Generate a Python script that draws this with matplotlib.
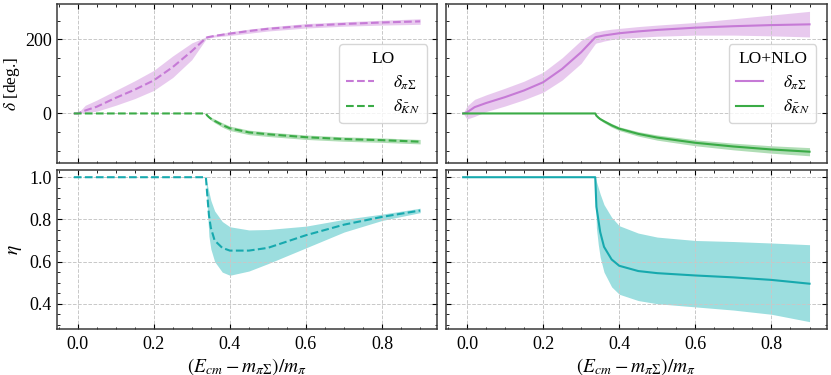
import numpy as np
import matplotlib
matplotlib.use('Agg')
import matplotlib.pyplot as plt

plt.rcParams['font.family'] = ['Liberation Serif', 'DejaVu Serif']
plt.rcParams['mathtext.fontset'] = 'stix'
plt.rcParams['xtick.direction'] = 'in'
plt.rcParams['ytick.direction'] = 'in'
plt.rcParams['xtick.top'] = True
plt.rcParams['ytick.right'] = True
plt.rcParams['xtick.minor.visible'] = True
plt.rcParams['ytick.minor.visible'] = True
plt.rcParams['xtick.major.size'] = 3.5
plt.rcParams['ytick.major.size'] = 3.5
plt.rcParams['xtick.minor.size'] = 1.8
plt.rcParams['ytick.minor.size'] = 1.8
plt.rcParams['axes.linewidth'] = 1.1
plt.rcParams['axes.edgecolor'] = '#3a3a3a'

# common energy grid (E_cm - m_piSigma)/m_pi
x = [-0.01, 0.0, 0.02, 0.05, 0.1, 0.15, 0.2, 0.25, 0.3, 0.337, 0.34, 0.345,
     0.35, 0.36, 0.38, 0.4, 0.45, 0.5, 0.6, 0.7, 0.8, 0.9]

# LO phase shifts
lo_pis = [0, 0, 8, 18, 42, 64, 89, 125, 168, 203, 205, 206,
          207, 209, 212, 215, 222, 228, 236, 241, 245, 248]
lo_pis_hi = [0, 0, 22, 36, 62, 88, 116, 155, 190, 206, 208, 209,
             210, 212, 216, 220, 227, 233, 242, 247, 251, 255]
lo_pis_lo = [0, 0, 2, 6, 22, 40, 62, 97, 145, 200, 202, 203,
             204, 206, 208, 210, 216, 222, 230, 235, 238, 240]
lo_kn = [0, 0, 0, 0, 0, 0, 0, 0, 0, 0, -5, -10,
         -14, -20, -31, -40, -51, -56, -64, -69, -72, -76]
lo_kn_hi = [0, 0, 0, 0, 0, 0, 0, 0, 0, 0, -3, -7,
            -10, -15, -25, -34, -45, -50, -58, -63, -66, -70]
lo_kn_lo = [0, 0, 0, 0, 0, 0, 0, 0, 0, 0, -7, -13,
            -18, -25, -37, -46, -57, -62, -70, -75, -78, -82]

# LO+NLO phase shifts
nlo_pis = [0, 3, 17, 28, 44, 62, 84, 120, 165, 205, 206, 207,
           208, 210, 213, 216, 221, 225, 231, 235, 238, 240]
nlo_pis_hi = [0, 20, 38, 50, 68, 87, 111, 150, 197, 220, 221, 221,
              222, 224, 227, 229, 234, 238, 245, 255, 265, 275]
nlo_pis_lo = [0, -15, -8, 5, 20, 37, 57, 90, 135, 188, 190, 191,
              192, 195, 199, 202, 205, 208, 211, 211, 209, 206]
nlo_kn = [0, 0, 0, 0, 0, 0, 0, 0, 0, 0, -6, -11,
          -15, -21, -32, -41, -55, -65, -79, -89, -97, -103]
nlo_kn_hi = [0, 0, 0, 0, 0, 0, 0, 0, 0, 0, -4, -8,
             -12, -17, -27, -36, -49, -58, -71, -80, -87, -92]
nlo_kn_lo = [0, 0, 0, 0, 0, 0, 0, 0, 0, 0, -8, -14,
             -18, -25, -37, -46, -61, -72, -87, -98, -107, -114]

# inelasticity
lo_eta = [1, 1, 1, 1, 1, 1, 1, 1, 1, 1, 0.93, 0.82,
          0.76, 0.70, 0.665, 0.652, 0.652, 0.665, 0.725, 0.775, 0.812, 0.842]
lo_eta_hi = [1, 1, 1, 1, 1, 1, 1, 1, 1, 1, 0.97, 0.93,
             0.89, 0.84, 0.79, 0.765, 0.75, 0.752, 0.768, 0.80, 0.825, 0.853]
lo_eta_lo = [1, 1, 1, 1, 1, 1, 1, 1, 1, 1, 0.88, 0.72,
             0.66, 0.60, 0.55, 0.535, 0.555, 0.59, 0.665, 0.74, 0.795, 0.832]
nlo_eta = [1, 1, 1, 1, 1, 1, 1, 1, 1, 1, 0.86, 0.80,
           0.74, 0.67, 0.61, 0.58, 0.555, 0.545, 0.534, 0.525, 0.513, 0.495]
nlo_eta_hi = [1, 1, 1, 1, 1, 1, 1, 1, 1, 1, 0.98, 0.95,
              0.92, 0.87, 0.81, 0.77, 0.735, 0.716, 0.70, 0.695, 0.688, 0.68]
nlo_eta_lo = [1, 1, 1, 1, 1, 1, 1, 1, 1, 1, 0.76, 0.68,
              0.62, 0.55, 0.48, 0.445, 0.415, 0.40, 0.385, 0.37, 0.35, 0.315]

purple = '#c67ad6'
green = '#3aab46'
cyan = '#17a9ae'

fig, axs = plt.subplots(2, 2, figsize=(8.31, 3.75), dpi=100,
                        sharex=True, sharey='row')
fig.subplots_adjust(left=0.068, right=0.995, top=0.989, bottom=0.123,
                    wspace=0.022, hspace=0.044)

for ax, ls, title, pis, pis_hi, pis_lo, kn, kn_hi, kn_lo in [
        (axs[0, 0], '--', 'LO', lo_pis, lo_pis_hi, lo_pis_lo, lo_kn, lo_kn_hi, lo_kn_lo),
        (axs[0, 1], '-', 'LO+NLO', nlo_pis, nlo_pis_hi, nlo_pis_lo, nlo_kn, nlo_kn_hi, nlo_kn_lo)]:
    ax.fill_between(x, pis_lo, pis_hi, color=purple, alpha=0.4, lw=0)
    ax.plot(x, pis, ls=ls, color=purple, lw=1.5, label=r'$\delta_{\pi\Sigma}$')
    ax.fill_between(x, kn_lo, kn_hi, color=green, alpha=0.4, lw=0)
    ax.plot(x, kn, ls=ls, color=green, lw=1.5, label=r'$\delta_{\bar{K}N}$')
    leg = ax.legend(title=title, loc='center right', fontsize=12.5,
                    title_fontsize=12.5, handlelength=1.6, handletextpad=1.1,
                    labelspacing=0.35, fancybox=True, edgecolor='#cccccc',
                    framealpha=0.8, borderpad=0.4, borderaxespad=0.6)

for ax, ls, eta, eta_hi, eta_lo in [
        (axs[1, 0], '--', lo_eta, lo_eta_hi, lo_eta_lo),
        (axs[1, 1], '-', nlo_eta, nlo_eta_hi, nlo_eta_lo)]:
    ax.fill_between(x, eta_lo, eta_hi, color='#1ab3b5', alpha=0.43, lw=0)
    ax.plot(x, eta, ls=ls, color=cyan, lw=1.5)
    ax.set_xlabel(r'$(E_{cm} - m_{\pi\Sigma})/m_\pi$', fontsize=14, labelpad=2)

for ax in axs.flat:
    ax.grid(True, ls='--', lw=0.7, color='#c8c8c8')
    ax.tick_params(labelsize=13)
    ax.set_xticks([0.0, 0.2, 0.4, 0.6, 0.8])
    ax.tick_params(axis='x', pad=5)

axs[0, 0].set_yticks([0, 200])
axs[1, 0].set_yticks([0.4, 0.6, 0.8, 1.0])
axs[0, 0].set_ylabel(r'$\delta$ [deg.]', fontsize=12.5, labelpad=2)
axs[1, 0].set_ylabel(r'$\eta$', fontsize=14, labelpad=4)

fig.savefig('out.png', dpi=100)
